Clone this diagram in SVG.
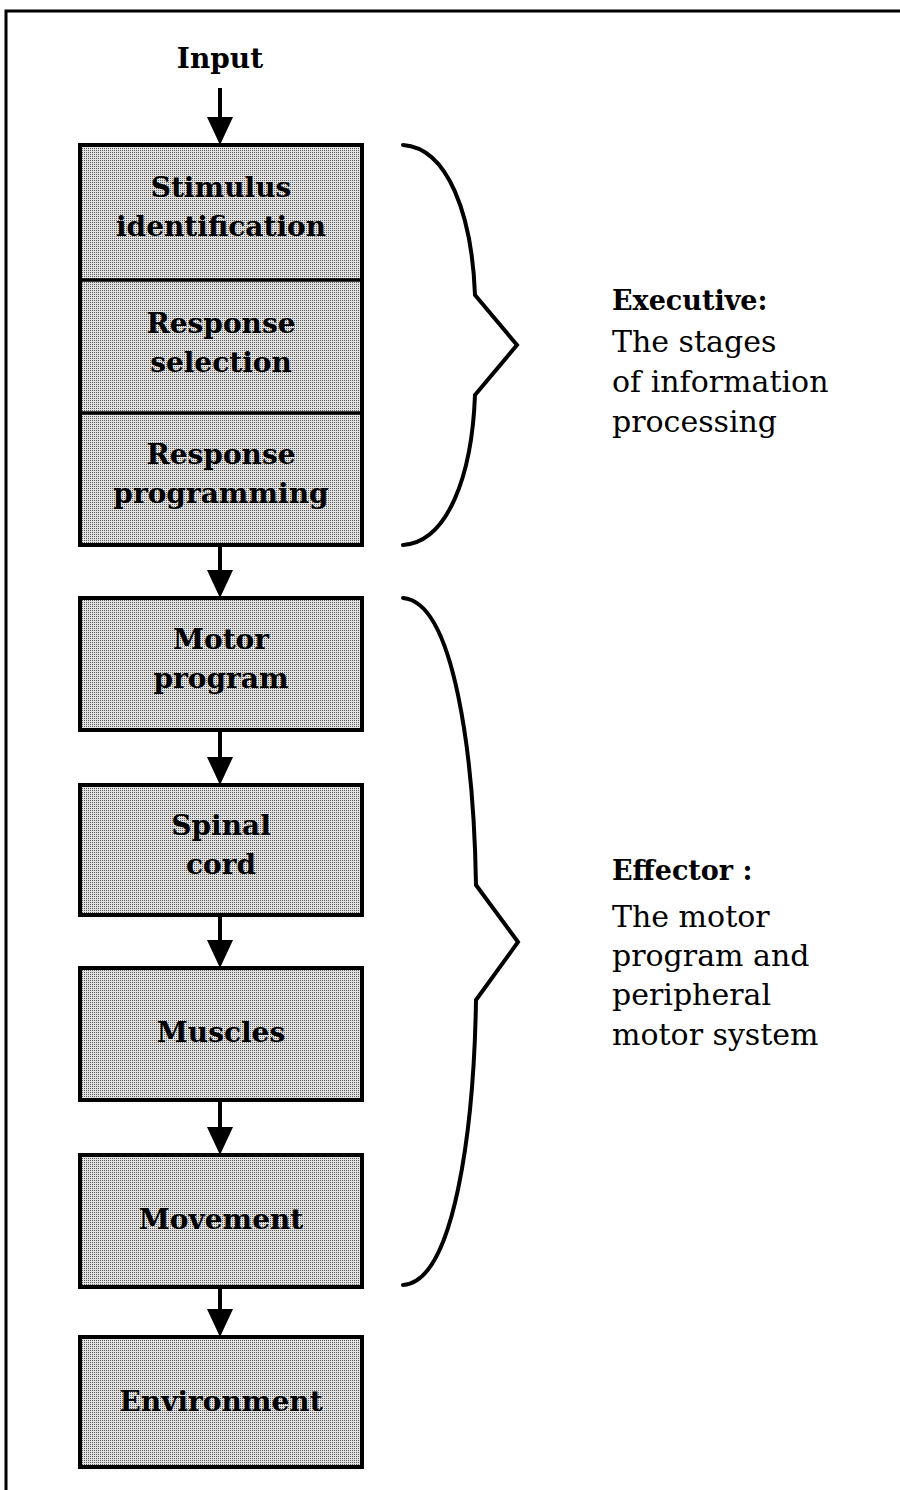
<svg xmlns="http://www.w3.org/2000/svg" width="900" height="1490" viewBox="0 0 900 1490">
<style>
.box{fill:url(#stip);stroke:#000;stroke-width:4}
.div{stroke:#000;stroke-width:3.5}
.lbl{font-family:"DejaVu Serif","Liberation Serif",serif;font-weight:bold;font-size:28px;text-anchor:middle;fill:#000}
.hd{font-family:"DejaVu Serif","Liberation Serif",serif;font-weight:bold;font-size:27px;fill:#000}
.tx{font-family:"DejaVu Serif","Liberation Serif",serif;font-size:30px;fill:#000}
.con{stroke:#000;stroke-width:4;fill:none;marker-end:url(#ah)}
.brace{stroke:#000;stroke-width:4;fill:none;stroke-linecap:round;stroke-linejoin:miter}
.frame{stroke:#000;stroke-width:3;fill:none}
</style>
<defs>
<pattern id="stip" patternUnits="userSpaceOnUse" width="2" height="2">
<rect width="2" height="2" fill="#e2e2e2"/>
<rect width="1" height="1" fill="#5a5a5a"/>
</pattern>
<marker id="ah" markerUnits="userSpaceOnUse" markerWidth="28" markerHeight="26" viewBox="0 0 28 26" refX="8" refY="13" orient="auto">
<path d="M0,0 L28,13 L0,26 Z" fill="#000"/>
</marker>
</defs>
<rect width="900" height="1490" fill="#fff"/>
<path class="frame" d="M6,1490 L6,11 L900,11"/>

<g id="input"><text class="lbl" x="220" y="68">Input</text></g>

<g id="stage-stack">
<rect class="box" x="80" y="145" width="282" height="400"/>
<line class="div" x1="80" y1="280" x2="362" y2="280"/>
<line class="div" x1="80" y1="413" x2="362" y2="413"/>
</g>
<g id="stimulus-identification"><text class="lbl" x="221" y="197">Stimulus</text><text class="lbl" x="221" y="236">identification</text></g>
<g id="response-selection"><text class="lbl" x="221" y="333">Response</text><text class="lbl" x="221" y="372">selection</text></g>
<g id="response-programming"><text class="lbl" x="221" y="464">Response</text><text class="lbl" x="221" y="503">programming</text></g>

<g id="motor-program"><rect class="box" x="80" y="598" width="282" height="132"/><text class="lbl" x="221" y="649">Motor</text><text class="lbl" x="221" y="688">program</text></g>
<g id="spinal-cord"><rect class="box" x="80" y="785" width="282" height="130"/><text class="lbl" x="221" y="835">Spinal</text><text class="lbl" x="221" y="874">cord</text></g>
<g id="muscles"><rect class="box" x="80" y="968" width="282" height="132"/><text class="lbl" x="221" y="1042">Muscles</text></g>
<g id="movement"><rect class="box" x="80" y="1155" width="282" height="132"/><text class="lbl" x="221" y="1229">Movement</text></g>
<g id="environment"><rect class="box" x="80" y="1337" width="282" height="130"/><text class="lbl" x="221" y="1411">Environment</text></g>

<g id="connectors">
<line class="con" x1="220" y1="88" x2="220" y2="125"/>
<line class="con" x1="220" y1="547" x2="220" y2="578"/>
<line class="con" x1="220" y1="732" x2="220" y2="765"/>
<line class="con" x1="220" y1="917" x2="220" y2="948"/>
<line class="con" x1="220" y1="1102" x2="220" y2="1135"/>
<line class="con" x1="220" y1="1289" x2="220" y2="1317"/>
</g>

<g id="executive">
<path class="brace" d="M403,145 C448,148 472,215 475,295 L517,345 L475,395 C472,475 448,542 403,545"/>
<text class="hd" x="612" y="310">Executive:</text>
<text class="tx" x="612" y="352">The stages</text>
<text class="tx" x="612" y="392">of information</text>
<text class="tx" x="612" y="432">processing</text>
</g>

<g id="effector">
<path class="brace" d="M403,598 C455,602 474,760 476,885 L518,942 L476,1000 C474,1125 455,1282 403,1285"/>
<text class="hd" x="612" y="880">Effector :</text>
<text class="tx" x="612" y="927">The motor</text>
<text class="tx" x="612" y="966">program and</text>
<text class="tx" x="612" y="1005">peripheral</text>
<text class="tx" x="612" y="1045">motor system</text>
</g>
</svg>
